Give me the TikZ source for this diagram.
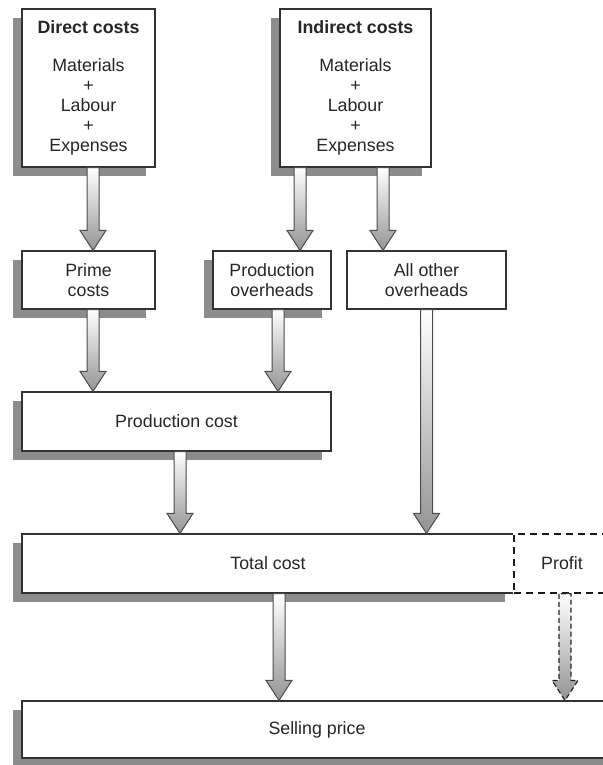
\documentclass[tikz,border=0pt]{standalone}
\usepackage{fontspec}
\setmainfont{Liberation Sans}
\usetikzlibrary{calc,shadows}

\tikzset{
	box/.style={draw=black!80, line width=.6pt, fill=white, align=center, inner sep=0pt,
		text=black!85, font=\fontsize{8.9}{10}\selectfont},
	shadowed/.style={box, drop shadow={shadow xshift=-4.5pt, shadow yshift=-4.5pt, fill=black!45, opacity=1}},
	arrowbody/.style={draw=black!70, line width=.5pt, top color=white, bottom color=black!42},
}

% fat shaded arrow: x (in px), start node, end node
\newcommand{\fatarrow}[4][]{%
	\shadedraw[arrowbody,#1] let \p1=(#2,0 |- #3.south), \p2=(#2,0 |- #4.north) in
		(\x1-3pt,\y1) -- (\x1-3pt,\y2+10pt) -- (\x1-6.5pt,\y2+10pt) -- (\x1,\y2)
		-- (\x1+6.5pt,\y2+10pt) -- (\x1+3pt,\y2+10pt) -- (\x1+3pt,\y1) -- cycle;
}

\begin{document}
\begin{tikzpicture}[x=.5pt, y=-.5pt]
	\useasboundingbox (0,0) rectangle (603,765);
	
	\node[shadowed, minimum width=66.5pt, minimum height=79pt] (dc) at (88.5,88)
		{\textbf{Direct costs}\\[9pt]Materials\\+\\Labour\\+\\Expenses};
	\node[shadowed, minimum width=75.5pt, minimum height=79pt] (ic) at (355.5,88)
		{\textbf{Indirect costs}\\[9pt]Materials\\+\\Labour\\+\\Expenses};
	
	\node[shadowed, minimum width=66.5pt, minimum height=29pt] (pc) at (88.5,280) {Prime\\costs};
	\node[shadowed, minimum width=59pt, minimum height=29pt] (po) at (272,280) {Production\\overheads};
	\node[box, minimum width=79.5pt, minimum height=29pt] (ao) at (426.5,280) {All other\\overheads};
	
	\node[shadowed, minimum width=154.5pt, minimum height=29.5pt] (prc) at (176.5,421.5) {Production cost};
	
	% total cost: right side is the dashed edge of the profit box
	\node[shadowed, minimum width=246pt, minimum height=29.5pt] (tc) at (268,563.5) {Total cost};
	\draw[white, line width=1.2pt] (tc.north east) -- (tc.south east);
	\node[box, dashed, dash pattern=on 3.5pt off 2.5pt, draw=black!90, line width=.8pt, fill=none,
		minimum width=48pt, minimum height=29.5pt] (pf) at (562,563.5) {Profit};
	
	\node[shadowed, minimum width=295pt, minimum height=28.5pt] (sp) at (317,729.5) {Selling price};
	
	\fatarrow{93}{dc}{pc}
	\fatarrow{300}{ic}{po}
	\fatarrow{383}{ic}{ao}
	\fatarrow{93}{pc}{prc}
	\fatarrow{278}{po}{prc}
	\fatarrow{180}{prc}{tc}
	\fatarrow{426.5}{ao}{tc}
	\fatarrow{279}{tc}{sp}
	\fatarrow[draw=black!85, line width=.6pt, dash pattern=on 2.5pt off 1.5pt]{565}{pf}{sp}
\end{tikzpicture}
\end{document}
